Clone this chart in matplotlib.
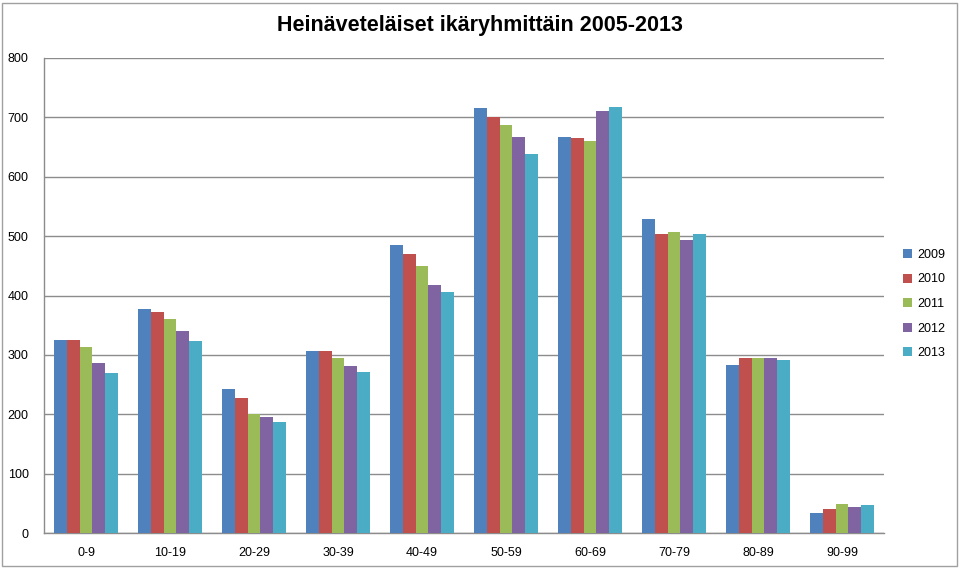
import matplotlib
matplotlib.use("Agg")
import matplotlib.pyplot as plt
import numpy as np
from matplotlib.patches import Rectangle

categories = ["0-9", "10-19", "20-29", "30-39", "40-49", "50-59", "60-69", "70-79", "80-89", "90-99"]
years = ["2009", "2010", "2011", "2012", "2013"]
v2009 = [325, 378, 243, 306, 485, 716, 667, 529, 283, 34]
v2010 = [325, 373, 227, 307, 470, 700, 666, 503, 294, 40]
v2011 = [313, 360, 201, 295, 450, 688, 660, 507, 294, 49]
v2012 = [286, 341, 196, 282, 418, 667, 711, 493, 294, 44]
v2013 = [270, 323, 187, 271, 406, 638, 718, 503, 292, 48]
series = [v2009, v2010, v2011, v2012, v2013]
colors = ["#4F81BD", "#C0504D", "#9BBB59", "#8064A2", "#4BACC6"]
yticks = [0, 100, 200, 300, 400, 500, 600, 700, 800]
title = "Heinäveteläiset ikäryhmittäin 2005-2013"

plt.rcParams['font.family'] = ['Liberation Sans', 'DejaVu Sans']
fig = plt.figure(figsize=(9.6, 5.69), dpi=100)
ax = fig.add_axes([44/960, 1-533/569, (884-44)/960, (533-58)/569])

x = np.arange(len(categories))
bw = 0.153
for i, (vals, c, yr) in enumerate(zip(series, colors, years)):
    ax.bar(x + (i - 2) * bw, vals, width=bw, color=c, label=yr, zorder=3)

ax.set_xlim(-0.5, len(categories) - 0.5)
ax.set_ylim(0, 800)
ax.set_yticks(yticks)
ax.set_yticklabels([str(t) for t in yticks], fontsize=9)
ax.set_xticks(x)
ax.set_xticklabels(categories, fontsize=9)
ax.tick_params(axis='x', length=0, pad=10)
ax.tick_params(axis='y', length=0, pad=11)
ax.yaxis.grid(True, color='#8C8C8C', linewidth=1, zorder=0)
for s in ['top', 'right']:
    ax.spines[s].set_visible(False)
for s in ['left', 'bottom']:
    ax.spines[s].set_color('#8C8C8C')
    ax.spines[s].set_linewidth(1)

fig.legend(loc='center left', bbox_to_anchor=(898/960, 1-304/569), frameon=False,
           fontsize=9, handlelength=0.7, handleheight=0.7, handletextpad=0.45,
           labelspacing=1.0, borderaxespad=0)

fig.text(480/960, 1-25/569, title, ha='center', va='center', fontsize=15.5, fontweight='bold')

border = Rectangle((2/960, 3/569), 955/960, 563/569, transform=fig.transFigure,
                   fill=False, edgecolor='#A0A0A0', linewidth=1)
fig.patches.append(border)

fig.savefig("out.png", dpi=100)
